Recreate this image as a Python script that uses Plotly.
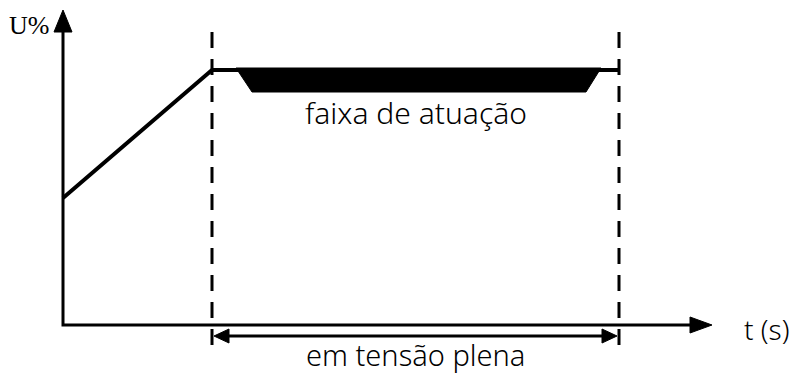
#!/usr/bin/env python3

import plotly.graph_objects as go

# schematic values (t in arbitrary units, U in arbitrary units)
t_ramp = [0, 149, 556]          # start, end of ramp, end of window
u_ramp = [127, 255, 255]        # starting voltage, full voltage
band_t_top = [173, 538]         # operating band, top edge
band_t_bot = [189, 523]         # operating band, bottom edge
band_u = [257, 233]             # band top / bottom
t_axis_end = 649
u_axis_end = 315
window = [149, 556]
labels = ['U%', 't (s)', 'faixa de atuação', 'em tensão plena']

FONT = 'Noto Sans'


def arrow_head(x, y, dx, dy, length, half):
    # filled triangle with tip at (x, y) pointing along (dx, dy)
    bx, by = x - dx * length, y - dy * length
    px, py = -dy * half, dx * half
    return [x, bx + px, bx - px, x], [y, by + py, by - py, y]


fig = go.Figure()

black = 'black'

# axes
fig.add_trace(go.Scatter(x=[0, 0, t_axis_end - 18], y=[u_axis_end - 20, 0, 0],
                         mode='lines', line=dict(color=black, width=3)))
hx, hy = arrow_head(0, u_axis_end, 0, 1, 22, 9)
fig.add_trace(go.Scatter(x=hx, y=hy, fill='toself', fillcolor=black, mode='lines',
                         line=dict(color=black, width=1)))
hx, hy = arrow_head(t_axis_end, 0, 1, 0, 22, 8)
fig.add_trace(go.Scatter(x=hx, y=hy, fill='toself', fillcolor=black, mode='lines',
                         line=dict(color=black, width=1)))

# operating band
fig.add_trace(go.Scatter(
    x=[band_t_top[0], band_t_top[1], band_t_bot[1], band_t_bot[0], band_t_top[0]],
    y=[band_u[0], band_u[0], band_u[1], band_u[1], band_u[0]],
    fill='toself', fillcolor=black, mode='lines', line=dict(color=black, width=1)))

# voltage curve
fig.add_trace(go.Scatter(x=t_ramp, y=u_ramp, mode='lines',
                         line=dict(color=black, width=4)))

# dashed window limits
for t in window:
    fig.add_trace(go.Scatter(x=[t, t], y=[293, -30], mode='lines',
                             line=dict(color=black, width=3, dash='16px,11px')))

# double arrow
yd = -11
fig.add_trace(go.Scatter(x=[window[0] + 12, window[1] - 12], y=[yd, yd], mode='lines',
                         line=dict(color=black, width=3)))
for tip, d in [(window[0] + 2, -1), (window[1] - 2, 1)]:
    hx, hy = arrow_head(tip, yd, d, 0, 15, 7)
    fig.add_trace(go.Scatter(x=hx, y=hy, fill='toself', fillcolor=black, mode='lines',
                             line=dict(color=black, width=1)))

fig.add_annotation(x=-34, y=300, text=labels[0], showarrow=False,
                   font=dict(family='Liberation Serif', size=26, color=black))
fig.add_annotation(x=704, y=-4, text=labels[1], showarrow=False,
                   font=dict(family=FONT, size=28, color=black, weight=300))
fig.add_annotation(x=353, y=213, text=labels[2], showarrow=False,
                   font=dict(family=FONT, size=30, color=black, weight=300))
fig.add_annotation(x=352, y=-29, text=labels[3], showarrow=False,
                   font=dict(family=FONT, size=29, color=black, weight=300))

fig.update_layout(
    width=801, height=374,
    margin=dict(l=0, r=0, t=0, b=0),
    showlegend=False,
    plot_bgcolor='white', paper_bgcolor='white',
    xaxis=dict(range=[-63, 738], visible=False, fixedrange=True),
    yaxis=dict(range=[-49, 325], visible=False, fixedrange=True),
)

fig.write_html('out.html', config={'displayModeBar': False},
               post_script="document.body.style.margin='0';")
